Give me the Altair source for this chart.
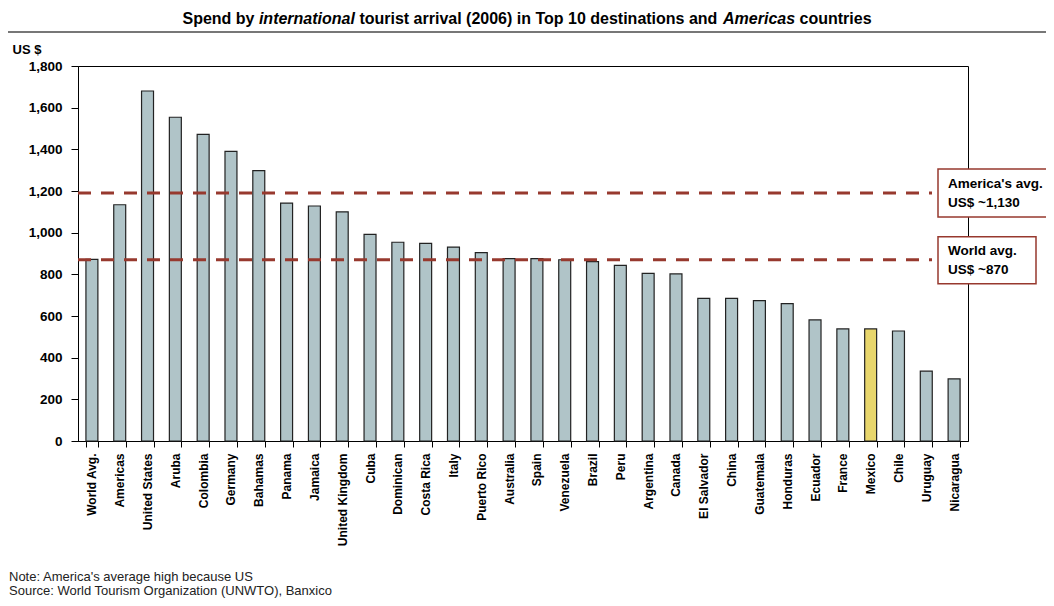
import altair as alt
import pandas as pd

# ---------------- data ----------------
countries = ["World Avg.", "Americas", "United States", "Aruba", "Colombia", "Germany",
             "Bahamas", "Panama", "Jamaica", "United Kingdom", "Cuba", "Dominican",
             "Costa Rica", "Italy", "Puerto Rico", "Australia", "Spain", "Venezuela",
             "Brazil", "Peru", "Argentina", "Canada", "El Salvador", "China",
             "Guatemala", "Honduras", "Ecuador", "France", "Mexico", "Chile",
             "Uruguay", "Nicaragua"]
spend = [872, 1134, 1680, 1554, 1472, 1390, 1298, 1142, 1128, 1100, 992, 954,
         949, 931, 904, 875, 875, 870, 861, 843, 805, 802, 685, 685,
         674, 659, 581, 538, 538, 528, 335, 298]
highlight = "Mexico"

avg_names = ["America's avg.", "World avg."]
avg_lines = [1190, 870]
avg_notes = ["US$ ~1,130", "US$ ~870"]

y_ticks = [0, 200, 400, 600, 800, 1000, 1200, 1400, 1600, 1800]

title_parts = ["Spend by ", "international", " tourist arrival (2006) in Top 10 destinations and ",
               "Americas", " countries"]
title_italic = [False, True, False, True, False]

notes = ["Note: America's average high because US",
         "Source:  World Tourism Organization (UNWTO), Banxico"]

df = pd.DataFrame({"country": countries, "value": spend})
avg_df = pd.DataFrame({"name": avg_names, "value": avg_lines, "note": avg_notes})
one = pd.DataFrame({"k": [0]})

FONT = "Liberation Sans"
BAR = "#B0C4C8"
HI = "#E8D66C"
RED = "#97392E"
W, H = 890, 375

# ---------------- bars ----------------
bars = alt.Chart(df).mark_bar(stroke="#222222", strokeWidth=1.2).encode(
    x=alt.X("country:N", sort=countries,
            scale=alt.Scale(paddingInner=0.57, paddingOuter=0.285),
            axis=alt.Axis(title=None, labelAngle=270, labelAlign="right",
                          labelBaseline="middle", tickBand="extent", tickSize=6,
                          labelPadding=6, labelFontWeight="bold", labelFontSize=12,
                          labelColor="black", domainColor="black", tickColor="black",
                          labelLimit=0, labelFont=FONT)),
    y=alt.Y("value:Q", scale=alt.Scale(domain=[0, 1800], nice=False),
            axis=alt.Axis(values=y_ticks, format=",.0f", title="US $", titleAngle=0,
                          titleAlign="left", titleBaseline="middle", titleX=-66, titleY=-17,
                          titleFontSize=13, titleFontWeight="bold", titleFont=FONT,
                          titleColor="black",
                          labelFontWeight="bold", labelFontSize=13.5, labelFont=FONT,
                          labelColor="black", tickSize=7, grid=False,
                          domainColor="black", tickColor="black", labelPadding=9)),
    color=alt.condition(alt.datum.country == highlight, alt.value(HI), alt.value(BAR)),
)

# ---------------- average lines + boxes ----------------
rules = alt.Chart(avg_df).mark_rule(strokeDash=[13, 10], strokeWidth=3, color=RED).encode(
    y="value:Q", x=alt.value(0), x2=alt.value(854))

box_a = alt.Chart(avg_df.iloc[[0]]).mark_rect(
    fill="white", stroke=RED, strokeWidth=1.5, yOffset=-24, y2Offset=24).encode(
    y="value:Q", y2="value", x=alt.value(860), x2=alt.value(974))
box_w = alt.Chart(avg_df.iloc[[1]]).mark_rect(
    fill="white", stroke=RED, strokeWidth=1.5, yOffset=-23, y2Offset=24).encode(
    y="value:Q", y2="value", x=alt.value(860), x2=alt.value(958))

box_t1 = alt.Chart(avg_df).mark_text(
    align="left", baseline="middle", dy=-9, fontWeight="bold", fontSize=13.5,
    font=FONT, color="black").encode(y="value:Q", x=alt.value(870), text="name:N")
box_t2 = alt.Chart(avg_df).mark_text(
    align="left", baseline="middle", dy=10, fontWeight="bold", fontSize=13.5,
    font=FONT, color="black").encode(y="value:Q", x=alt.value(870), text="note:N")

# ---------------- title (mixed italics) ----------------
cw = {' ': 278, '(': 333, ')': 333, 'A': 722, 'S': 667, 'T': 611, 'a': 556, 'b': 611,
      'c': 556, 'd': 611, 'e': 556, 'i': 278, 'l': 278, 'm': 889, 'n': 611, 'o': 611,
      'p': 611, 'r': 389, 's': 556, 't': 333, 'u': 611, 'v': 556, 'y': 556}
TSIZE = 16


def tw(s):
    return sum(cw.get(ch, 556) for ch in s) / 1000 * TSIZE


total = sum(tw(p) for p in title_parts)
cx = 527 - 78  # page centre in plot coordinates
xpos = cx - total / 2
title_layers = []
for part, it in zip(title_parts, title_italic):
    lead = len(part) - len(part.lstrip(" "))
    x0 = xpos + tw(" " * lead)
    title_layers.append(
        alt.Chart(one).mark_text(align="left", baseline="middle", fontSize=TSIZE,
                                 fontWeight="bold", font=FONT, color="black",
                                 fontStyle="italic" if it else "normal",
                                 text=part.strip()).encode(x=alt.value(x0), y=alt.value(-47)))
    xpos += tw(part)

title_rule = alt.Chart(one).mark_rule(color="#4a4a4a", strokeWidth=1.5).encode(
    x=alt.value(-70), x2=alt.value(968), y=alt.value(-34))

# ---------------- footnotes ----------------
note_layers = [
    alt.Chart(one).mark_text(align="left", baseline="middle", fontSize=13, font=FONT,
                             color="#222222", text=notes[0]).encode(
        x=alt.value(-69), y=alt.value(511)),
    alt.Chart(one).mark_text(align="left", baseline="middle", fontSize=13, font=FONT,
                             color="#222222", text=notes[1]).encode(
        x=alt.value(-69), y=alt.value(525)),
]

chart = alt.layer(bars, rules, box_a, box_w, box_t1, box_t2, title_rule,
                  *title_layers, *note_layers).properties(
    width=W, height=H,
    autosize=alt.AutoSizeParams(type="none"),
    padding={"left": 70, "top": 58, "right": 78, "bottom": 157},
).configure(font=FONT).configure_view(stroke="black", strokeWidth=1)

chart.save("out.html", embed_options={"renderer": "svg", "actions": False})
